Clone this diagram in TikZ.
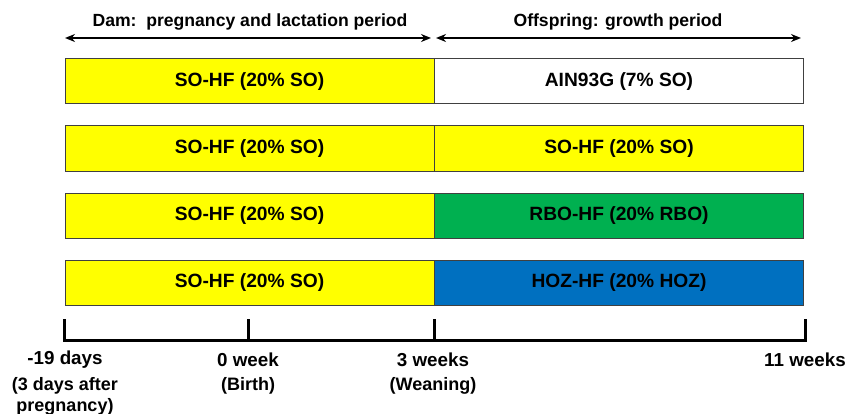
\documentclass[tikz,border=0pt]{standalone}
\usepackage{fontspec}
\setmainfont{Liberation Sans}
\usetikzlibrary{arrows.meta}
\definecolor{dietyellow}{HTML}{FFFF00}
\definecolor{dietgreen}{HTML}{00B050}
\definecolor{dietblue}{HTML}{0070C0}
\definecolor{edgegray}{HTML}{404040}
\begin{document}
\begin{tikzpicture}[x=1pt,y=-1pt,
  dietbox/.style={draw=edgegray, line width=1pt, minimum width=369pt, minimum height=45pt, inner sep=0pt, font=\fontsize{19.2}{22}\selectfont\bfseries},
  period/.style={line width=2.2pt, {Stealth[length=10pt,width=8pt]}-{Stealth[length=10pt,width=8pt]}},
  hdr/.style={font=\fontsize{17.6}{20}\selectfont\bfseries, inner sep=0pt},
  tlab/.style={font=\fontsize{18.8}{22}\selectfont\bfseries, inner sep=0pt, align=center},
  sublab/.style={font=\fontsize{18}{21}\selectfont\bfseries, inner sep=0pt, align=center, anchor=north},
  axis/.style={line width=3pt}]
\useasboundingbox (0,0) rectangle (850,414);
% header arrows
\coordinate (la) at (65,38);
\coordinate (lb) at (431,38);
\coordinate (ra) at (436,38);
\coordinate (rb) at (801,38);
\draw[period] (la) -- (lb);
\draw[period] (ra) -- (rb);
\node[hdr] (hdam) at (250,22) {Dam:\ \ pregnancy and lactation period};
\node[hdr] (hoff) at (618,22) {Offspring: growth period};
% rows
\node[dietbox, fill=dietyellow] (d1) at (249.5,81.5) {SO-HF (20\% SO)};
\node[dietbox, fill=white] (o1) at (619,81.5) {AIN93G (7\% SO)};
\node[dietbox, fill=dietyellow] (d2) at (249.5,148.5) {SO-HF (20\% SO)};
\node[dietbox, fill=dietyellow] (o2) at (619,148.5) {SO-HF (20\% SO)};
\node[dietbox, fill=dietyellow] (d3) at (249.5,215.5) {SO-HF (20\% SO)};
\node[dietbox, fill=dietgreen] (o3) at (619,215.5) {RBO-HF (20\% RBO)};
\node[dietbox, fill=dietyellow] (d4) at (249.5,282.5) {SO-HF (20\% SO)};
\node[dietbox, fill=dietblue] (o4) at (619,282.5) {HOZ-HF (20\% HOZ)};
% timeline
\coordinate (t0) at (64,319);
\coordinate (t0b) at (64,340);
\coordinate (t1) at (248,319);
\coordinate (t1b) at (248,340);
\coordinate (t2) at (434,319);
\coordinate (t2b) at (434,340);
\coordinate (t3) at (805,319);
\coordinate (t3b) at (805,340);
\draw[axis, line cap=butt, line join=miter] (t0) -- (t0b) -- (t3b) -- (t3);
\draw[axis] (t1) -- (t1b);
\draw[axis] (t2) -- (t2b);
% labels
\node[tlab] (l0) at (65,360) {-19 days};
\node[sublab] (s0) at (65,377) {(3 days after\\pregnancy)};
\node[tlab] (l1) at (248,360) {0 week};
\node[sublab] (s1) at (248,377) {(Birth)};
\node[tlab] (l2) at (433,360) {3 weeks};
\node[sublab] (s2) at (433,377) {(Weaning)};
\node[tlab] (l3) at (805,360) {11 weeks};
\end{tikzpicture}
\end{document}
